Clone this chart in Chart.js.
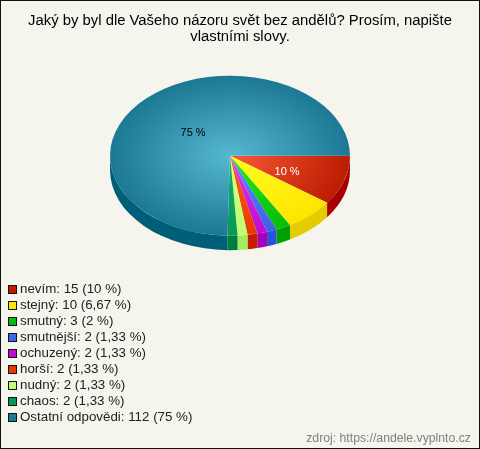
<!DOCTYPE html>
<html>
<head>
<meta charset="utf-8">
<script src="https://cdn.jsdelivr.net/npm/chart.js@4"></script>
<style>
  body { margin: 0; background: #f5f5ee; }
  #wrap { position: relative; width: 480px; height: 449px; overflow: hidden; font-family: "Liberation Sans", Arial, sans-serif; }
  #wrap canvas { position: absolute; left: 0; top: 0; }
  #frame { position: absolute; left: 0; top: 0; width: 478px; height: 447px; border: 1px solid #111; pointer-events: none; }
  #legend { position: absolute; left: 8px; top: 281px; margin: 0; padding: 0; list-style: none; font-size: 13.33px; color: #222; }
  #legend li { height: 16px; line-height: 16px; white-space: nowrap; }
  #legend i { display: inline-block; box-sizing: border-box; width: 9px; height: 9px; border: 1px solid #111; margin-right: 3px; vertical-align: -0.5px; }
  #source { position: absolute; right: 9px; top: 431px; font-size: 12.25px; color: #808080; }
</style>
</head>
<body>
<div id="wrap">
  <canvas id="pieChart" width="480" height="449"></canvas>
  <ul id="legend"></ul>
  <div id="source">zdroj: https://andele.vyplnto.cz</div>
  <div id="frame"></div>
</div>
<script>
const titleLines = ['Jaký by byl dle Vašeho názoru svět bez andělů? Prosím, napište', 'vlastními slovy.'];
const categories = ['nevím', 'stejný', 'smutný', 'smutnější', 'ochuzený', 'horší', 'nudný', 'chaos', 'Ostatní odpovědi'];
const answers = [15, 10, 3, 2, 2, 2, 2, 2, 112];
const percentText = ['10 %', '6,67 %', '2 %', '1,33 %', '1,33 %', '1,33 %', '1,33 %', '1,33 %', '75 %'];

const innerColors = ['#f85a38', '#ffff20', '#24e824', '#5f8cff', '#e434f4', '#ff5c18', '#d4ff84', '#18b070', '#56b8d0'];
const outerColors = ['#bc1c00', '#ffe400', '#08bc08', '#3c60e4', '#bc0cd0', '#e43c00', '#c0fc70', '#089858', '#1c7894'];
const sideColors = ['#a80000', '#e4cc00', '#00a000', '#2a50dc', '#a800b8', '#c41c00', '#a4ec5c', '#007c3c', '#005f78'];
const legendColors = ['#c41c00', '#ffe800', '#08bc08', '#3c68f0', '#c00cd0', '#e43c00', '#c0fc70', '#089858', '#1c7c94'];

// the picture is a tilted pie: draw it squashed and move it to the old spot
const pieX = 230, pieY = 155.7, squash = 2 / 3, depth = 14.5;

const tiltPlugin = {
  id: 'tilt',
  beforeDatasetsDraw(chart) {
    const ctx = chart.ctx;
    const arcs = chart.getDatasetMeta(0).data;
    const cx = arcs[0].x, cy = arcs[0].y;
    ctx.save();
    ctx.translate(pieX, pieY);
    ctx.scale(1, squash);
    ctx.translate(-cx, -cy);
    const d = depth / squash;
    arcs.forEach((arc, i) => {
      const a0 = Math.max(arc.startAngle, 0);
      const a1 = Math.min(arc.endAngle, Math.PI);
      if (a1 <= a0) return;
      ctx.beginPath();
      ctx.arc(cx, cy, arc.outerRadius, a0, a1);
      ctx.arc(cx, cy + d, arc.outerRadius, a1, a0, true);
      ctx.closePath();
      ctx.fillStyle = sideColors[i];
      ctx.fill();
    });
  },
  afterDatasetsDraw(chart) {
    const ctx = chart.ctx;
    ctx.restore();
    const arcs = chart.getDatasetMeta(0).data;
    ctx.font = '11px "Liberation Sans", Arial, sans-serif';
    ctx.textAlign = 'center';
    ctx.textBaseline = 'middle';
    arcs.forEach((arc, i) => {
      if (answers[i] < 15) return;
      const mid = (arc.startAngle + arc.endAngle) / 2;
      const r = arc.outerRadius * (i === 0 ? 0.5 : 0.44);
      ctx.fillStyle = i === 0 ? '#fff' : '#000';
      ctx.fillText(percentText[i], pieX + Math.cos(mid) * r, pieY + Math.sin(mid) * r * squash + (i === 0 ? 3.5 : 2));
    });
  }
};

function faceGradient(c) {
  const a = c.chart.chartArea;
  if (!a) return innerColors[c.dataIndex];
  const x = (a.left + a.right) / 2, y = (a.top + a.bottom) / 2;
  const g = c.chart.ctx.createRadialGradient(x, y, 0, x, y, 120);
  g.addColorStop(0, innerColors[c.dataIndex]);
  g.addColorStop(1, outerColors[c.dataIndex]);
  return g;
}

window.addEventListener('load', () => {
  document.getElementById('legend').innerHTML = categories.map((name, i) =>
    '<li><i style="background:' + legendColors[i] + '"></i>' + name + ': ' + answers[i] + ' (' + percentText[i] + ')</li>'
  ).join('');

  new Chart(document.getElementById('pieChart'), {
    type: 'pie',
    data: {
      labels: categories,
      datasets: [{ data: answers, backgroundColor: faceGradient, borderWidth: 0 }]
    },
    options: {
      responsive: false,
      animation: false,
      rotation: 90,
      layout: { padding: { bottom: 164.5 } },
      plugins: {
        legend: { display: false },
        tooltip: { enabled: false },
        title: {
          display: true,
          text: titleLines,
          color: '#000',
          font: { family: '"Liberation Sans", Arial, sans-serif', size: 14.85, weight: 'normal', lineHeight: 1.08 },
          padding: { top: 12.5, bottom: 0 }
        }
      }
    },
    plugins: [tiltPlugin]
  });
});
</script>
</body>
</html>
